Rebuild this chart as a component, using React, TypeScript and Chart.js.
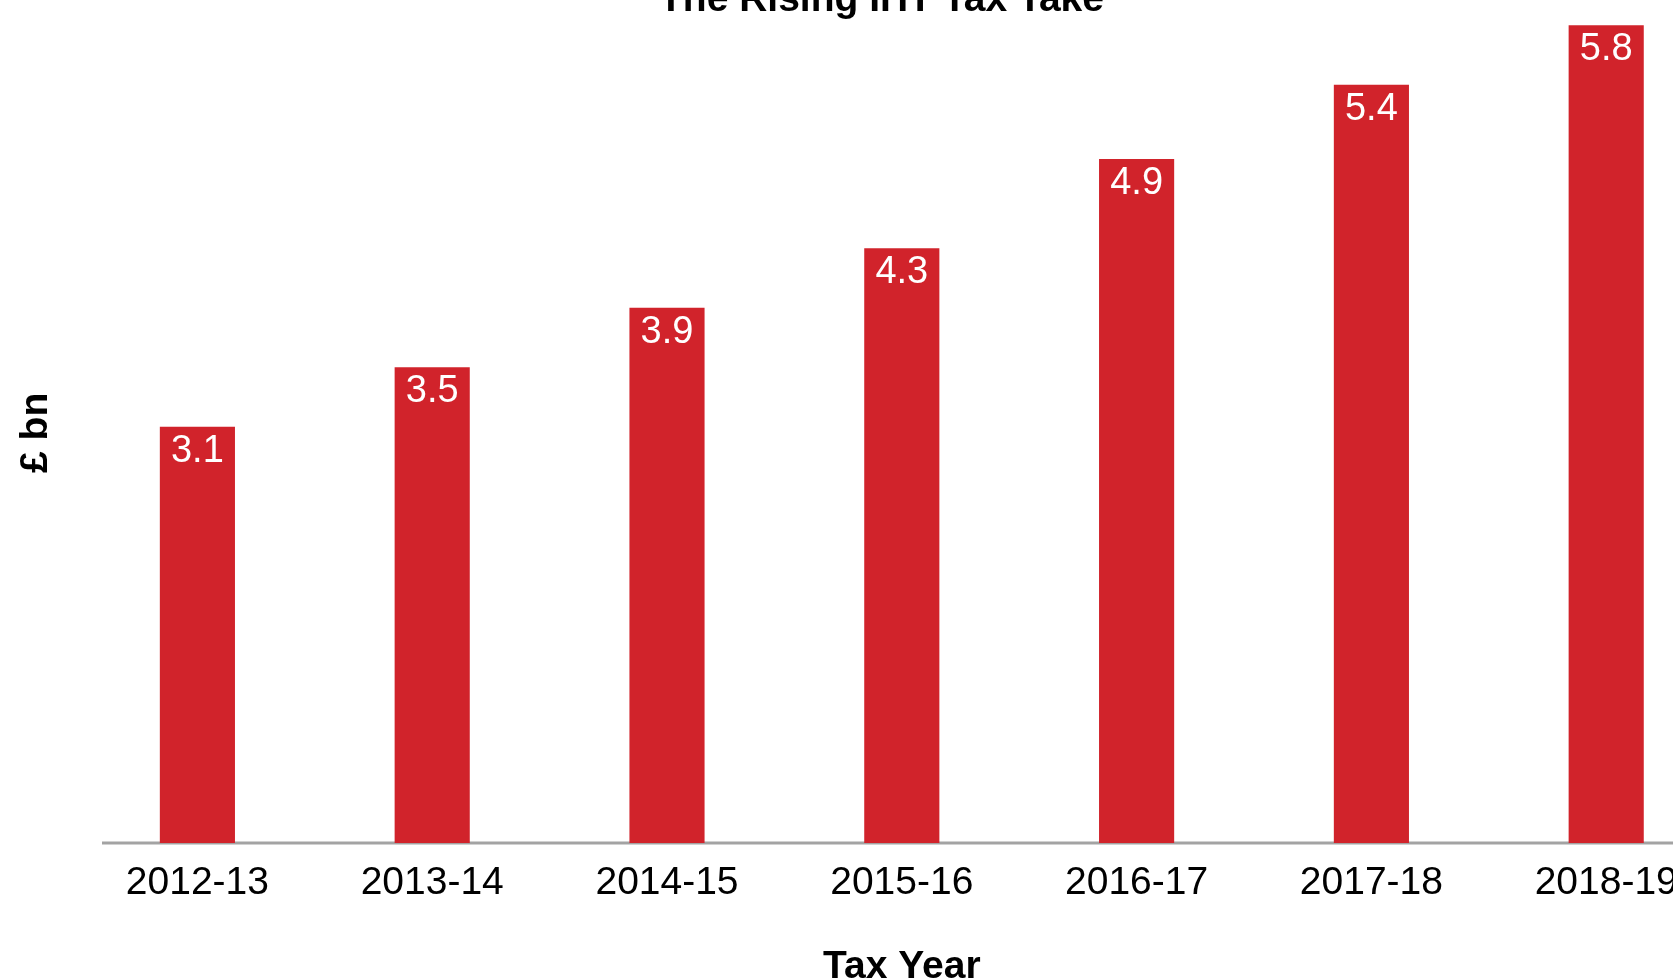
import React, { useEffect, useRef } from "react";
import { Chart, registerables } from "chart.js";

Chart.register(...registerables);

const chartTitle = "The Rising IHT Tax Take";
const xAxisTitle = "Tax Year";
const yAxisTitle = "£ bn";
const taxYears = ["2012-13", "2013-14", "2014-15", "2015-16", "2016-17", "2017-18", "2018-19"];
const ihtReceipts = [3.1, 3.5, 3.9, 4.3, 4.9, 5.4, 5.8];
const yMin = 0.303;
const yMax = 5.817;

const FONT = "'Liberation Sans', Arial, Helvetica, sans-serif";
const BAR_RED = "#d1232b";

const baselinePlugin = {
  id: "baselineLine",
  beforeDatasetsDraw(chart: any) {
    const { ctx, chartArea, scales } = chart;
    const y = scales.y.getPixelForValue(yMin);
    ctx.save();
    ctx.strokeStyle = "#a3a3a3";
    ctx.lineWidth = 3;
    ctx.beginPath();
    ctx.moveTo(chartArea.left + 22, y);
    ctx.lineTo(chartArea.right + 40, y);
    ctx.stroke();
    ctx.restore();
  },
};

const valueLabelPlugin = {
  id: "valueLabels",
  afterDatasetsDraw(chart: any) {
    const { ctx } = chart;
    const meta = chart.getDatasetMeta(0);
    const data = chart.data.datasets[0].data as number[];
    ctx.save();
    ctx.fillStyle = "#ffffff";
    ctx.font = `38px ${FONT}`;
    ctx.textAlign = "center";
    ctx.textBaseline = "alphabetic";
    meta.data.forEach((bar: any, i: number) => {
      ctx.fillText(data[i].toFixed(1), bar.x, bar.y + 35);
    });
    ctx.restore();
  },
};

export default function App() {
  const canvasRef = useRef<HTMLCanvasElement | null>(null);

  useEffect(() => {
    if (!canvasRef.current) return;
    const chart = new Chart(canvasRef.current, {
      type: "bar",
      data: {
        labels: taxYears,
        datasets: [
          {
            data: ihtReceipts,
            base: yMin,
            backgroundColor: BAR_RED,
            borderWidth: 0,
            categoryPercentage: 1,
            barPercentage: 0.32,
            clip: false as any,
          } as any,
        ],
      },
      options: {
        animation: false,
        responsive: false,
        devicePixelRatio: 1,
        layout: { padding: { left: 39.4, right: 39.4, top: 0, bottom: 0 } },
        plugins: {
          legend: { display: false },
          tooltip: { enabled: false },
          title: {
            display: true,
            text: chartTitle,
            color: "#000000",
            font: { family: FONT, size: 39, weight: "bold", lineHeight: 1.17 },
            padding: { top: 0, bottom: 0 },
          },
        },
        scales: {
          x: {
            grid: { display: false, drawTicks: false },
            border: { display: false },
            ticks: {
              color: "#000000",
              font: { family: FONT, size: 39, lineHeight: 1.2 },
              padding: 17,
              maxRotation: 0,
              autoSkip: false,
            },
            title: {
              display: true,
              text: xAxisTitle,
              color: "#000000",
              font: { family: FONT, size: 39, weight: "bold", lineHeight: 1.2 },
              padding: { top: 19.9, bottom: 8.5 },
            },
          },
          y: {
            min: yMin,
            max: yMax,
            grid: { display: false, drawTicks: false },
            border: { display: false },
            ticks: { display: false },
            title: {
              display: true,
              text: yAxisTitle,
              color: "#000000",
              font: { family: FONT, size: 39, weight: "bold", lineHeight: 1.2 },
              padding: { top: -26.6, bottom: 20.4 },
            },
          },
        },
      },
      plugins: [baselinePlugin, valueLabelPlugin],
    });
    return () => chart.destroy();
  }, []);

  return (
    <div
      style={{
        position: "fixed",
        left: 0,
        top: 0,
        width: "100vw",
        height: "100vh",
        overflow: "hidden",
        background: "#ffffff",
      }}
    >
      <div style={{ position: "absolute", left: 0, top: -23, width: 1763, height: 1022 }}>
        <canvas ref={canvasRef} width={1763} height={1022} style={{ width: 1763, height: 1022 }} />
      </div>
    </div>
  );
}
